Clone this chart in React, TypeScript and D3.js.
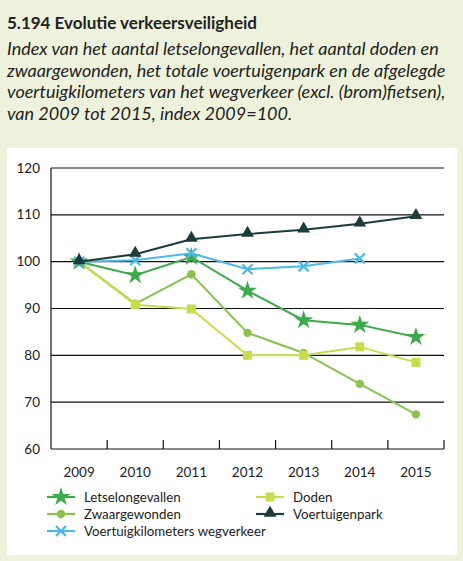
import React from "react";
import * as d3 from "d3";

const years = ["2009", "2010", "2011", "2012", "2013", "2014", "2015"];
const letselongevallen = [100, 97.1, 101.0, 93.8, 87.5, 86.5, 83.9];
const doden = [100, 90.8, 89.9, 80, 80, 81.8, 78.5];
const zwaargewonden = [100, 91.0, 97.3, 84.8, 80.5, 73.9, 67.4];
const voertuigenpark = [100, 101.6, 104.8, 105.9, 106.8, 108.1, 109.7];
const voertuigkilometers = [100, 100.3, 101.8, 98.4, 99.0, 100.7];
const yTicks = [60, 70, 80, 90, 100, 110, 120];

const titleText = "5.194 Evolutie verkeersveiligheid";
const subtitleLines = [
  "Index van het aantal letselongevallen, het aantal doden en",
  "zwaargewonden, het totale voertuigenpark en de afgelegde",
  "voertuigkilometers van het wegverkeer (excl. (brom)fietsen),",
  "van 2009 tot 2015, index 2009=100.",
];

type Series = { name: string; values: number[]; color: string; marker: string };
const series: Series[] = [
  { name: "Zwaargewonden", values: zwaargewonden, color: "#8dc14f", marker: "circle" },
  { name: "Doden", values: doden, color: "#c9dc4c", marker: "square" },
  { name: "Letselongevallen", values: letselongevallen, color: "#3daa4b", marker: "star" },
  { name: "Voertuigkilometers wegverkeer", values: voertuigkilometers, color: "#4cb9e7", marker: "x" },
  { name: "Voertuigenpark", values: voertuigenpark, color: "#1b3b3c", marker: "triangle" },
];

const legendOrder = [
  ["Letselongevallen", "Doden"],
  ["Zwaargewonden", "Voertuigenpark"],
  ["Voertuigkilometers wegverkeer"],
];

function Marker({ type, x, y, color }: { type: string; x: number; y: number; color: string }) {
  if (type === "circle") return <circle cx={x} cy={y} r={4.2} fill={color} />;
  if (type === "square") return <rect x={x - 4.5} y={y - 4.5} width={9} height={9} fill={color} />;
  if (type === "star") {
    const d = d3.symbol().type(d3.symbolStar).size(110)();
    return <path d={d || ""} transform={`translate(${x},${y})`} fill={color} />;
  }
  if (type === "triangle") {
    const d = d3.symbol().type(d3.symbolTriangle).size(70)();
    return <path d={d || ""} transform={`translate(${x},${y - 1})`} fill={color} />;
  }
  if (type === "x") {
    const s = 5;
    return (
      <g stroke={color} strokeWidth={2.2}>
        <line x1={x - s} y1={y - s} x2={x + s} y2={y + s} />
        <line x1={x - s} y1={y + s} x2={x + s} y2={y - s} />
      </g>
    );
  }
  return null;
}

export default function App() {
  const W = 463, H = 561;
  const left = 51, right = 444, top = 168, bottom = 449;
  const x = d3.scaleBand().domain(years).range([left, right]);
  const y = d3.scaleLinear().domain([60, 120]).range([bottom, top]);
  const cx = (i: number) => (x(years[i]) as number) + x.bandwidth() / 2;
  const line = d3
    .line<number>()
    .x((_, i) => cx(i))
    .y((v) => y(v));
  const font = "Lato, 'Open Sans', sans-serif";
  const byName = Object.fromEntries(series.map((s) => [s.name, s]));
  const legendX = [47, 256];
  const legendY = [497, 514, 531];

  return (
    <svg width={W} height={H} style={{ position: "absolute", left: 0, top: 0 }} fontFamily={font}>
      <rect x={0} y={0} width={W} height={H} fill="#eef2dc" />
      <text x={7} y={29} fontSize={17} fontWeight="bold" fill="#222">
        {titleText}
      </text>
      {subtitleLines.map((t, i) => (
        <text key={i} x={7} y={55 + i * 21.5} fontSize={18} fontStyle="italic" fill="#222">
          {t}
        </text>
      ))}
      <rect x={7} y={148} width={450} height={407} fill="#ffffff" />
      {yTicks.map((t) => (
        <g key={t}>
          <line x1={left} x2={right} y1={y(t)} y2={y(t)} stroke="#111" strokeWidth={1.2} />
          <text x={40} y={y(t) + 4.5} fontSize={13.5} textAnchor="end" fill="#222">
            {t}
          </text>
        </g>
      ))}
      <line x1={left} x2={left} y1={top} y2={bottom} stroke="#111" strokeWidth={1.2} />
      {years.map((yr, i) => (
        <g key={yr}>
          <line
            x1={(x(yr) as number) + x.bandwidth()}
            x2={(x(yr) as number) + x.bandwidth()}
            y1={bottom}
            y2={bottom - 9}
            stroke="#111"
            strokeWidth={1.2}
          />
          <text x={cx(i)} y={477} fontSize={13.5} textAnchor="middle" fill="#222">
            {yr}
          </text>
        </g>
      ))}
      {series.map((s) => (
        <g key={s.name}>
          <path d={line(s.values) || ""} fill="none" stroke={s.color} strokeWidth={2} />
          {s.values.map((v, i) => (
            <Marker key={i} type={s.marker} x={cx(i)} y={y(v)} color={s.color} />
          ))}
        </g>
      ))}
      {legendOrder.map((row, r) =>
        row.map((name, c) => {
          const s = byName[name];
          const lx = legendX[c];
          const ly = legendY[r];
          return (
            <g key={name}>
              <line x1={lx} x2={lx + 28} y1={ly} y2={ly} stroke={s.color} strokeWidth={2.2} />
              <Marker type={s.marker} x={lx + 14} y={ly} color={s.color} />
              <text x={lx + 37} y={ly + 4.5} fontSize={13.3} fill="#222">
                {name}
              </text>
            </g>
          );
        })
      )}
    </svg>
  );
}
